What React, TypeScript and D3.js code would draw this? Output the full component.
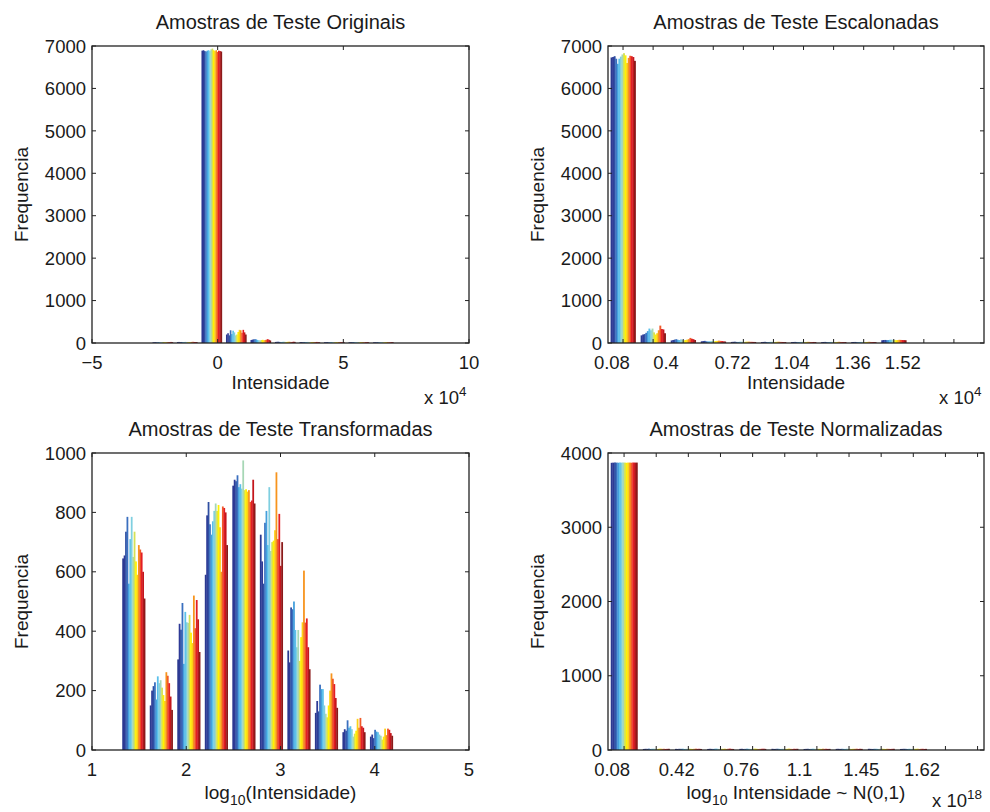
import React from "react";
import * as d3 from "d3";

// ---------- DATA ----------
const SERIES_COUNT = 16;

// Panel 1: Amostras de Teste Originais (x in units of 10^4)
const origCenters = [-2.19, -1.215, -0.24, 0.735, 1.71, 2.685, 3.66, 4.635, 5.61, 6.585];
const origCounts = [
  [15, 18, 20, 16, 22, 18, 15, 20, 24, 18, 16, 20, 22, 18, 25, 20],
  [22, 25, 20, 24, 18, 22, 26, 20, 24, 22, 20, 25, 28, 24, 22, 20],
  [6890, 6900, 6880, 6870, 6890, 6900, 6880, 6920, 6940, 6900, 6880, 6900, 6860, 6890, 6880, 6870],
  [200, 230, 180, 300, 210, 290, 250, 180, 200, 260, 310, 300, 240, 310, 250, 200],
  [70, 80, 85, 90, 85, 70, 65, 60, 70, 75, 65, 70, 80, 90, 75, 60],
  [25, 28, 30, 26, 22, 25, 30, 28, 24, 26, 30, 28, 22, 25, 30, 26],
  [20, 22, 18, 24, 20, 22, 25, 20, 18, 22, 24, 20, 22, 25, 20, 18],
  [18, 20, 22, 18, 20, 24, 20, 18, 22, 20, 18, 22, 24, 20, 18, 20],
  [16, 18, 20, 22, 18, 16, 20, 22, 18, 20, 22, 18, 16, 20, 22, 18],
  [15, 18, 16, 20, 18, 15, 18, 20, 16, 18, 20, 22, 18, 16, 20, 18],
];
const origXTicks = [-5, 0, 5, 10];
const origXTickLabels = ["\u22125", "0", "5", "10"];
const origYTicks = [0, 1000, 2000, 3000, 4000, 5000, 6000, 7000];

// Panel 2: Amostras de Teste Escalonadas (x as bin index)
const scaledCenters = [0, 1, 2, 3, 4, 5, 6, 7, 8, 9];
const scaledCounts = [
  [6730, 6740, 6760, 6700, 6580, 6700, 6750, 6800, 6830, 6780, 6600, 6720, 6770, 6760, 6740, 6650],
  [180, 200, 210, 240, 280, 340, 300, 340, 250, 200, 230, 300, 410, 330, 320, 230],
  [60, 70, 80, 90, 75, 70, 85, 70, 65, 70, 80, 90, 120, 100, 90, 70],
  [40, 45, 50, 40, 35, 40, 45, 50, 40, 45, 50, 55, 50, 45, 40, 35],
  [25, 28, 30, 26, 24, 28, 30, 26, 25, 28, 32, 30, 28, 26, 25, 24],
  [22, 25, 28, 24, 22, 25, 28, 26, 24, 25, 30, 28, 26, 24, 22, 22],
  [22, 24, 26, 24, 22, 24, 26, 28, 24, 22, 28, 26, 24, 22, 24, 22],
  [20, 24, 26, 22, 20, 24, 26, 24, 22, 20, 26, 28, 24, 22, 20, 22],
  [22, 24, 25, 22, 20, 24, 26, 24, 22, 24, 26, 28, 24, 22, 22, 20],
  [65, 70, 72, 68, 70, 75, 78, 70, 72, 68, 70, 75, 72, 70, 68, 66],
];
const scaledXTicks = [0, 1, 2, 3, 4, 5, 6, 7, 8, 9, 10, 11];
const scaledLabelText = ["0.08", "0.4", "0.72", "1.04", "1.36", "1.52"];
const scaledLabelPos = [-0.37, 1.43, 3.64, 5.61, 7.64, 9.3];
const scaledYTicks = [0, 1000, 2000, 3000, 4000, 5000, 6000, 7000];

// Panel 3: Amostras de Teste Transformadas (x = log10 intensity)
const transCenters = [1.442, 1.734, 2.026, 2.318, 2.61, 2.902, 3.194, 3.486, 3.778, 4.07];
const transCounts = [
  [645, 655, 735, 785, 560, 710, 785, 650, 735, 635, 590, 690, 675, 665, 600, 510],
  [150, 200, 215, 228, 170, 248, 225, 235, 210, 185, 165, 262, 250, 225, 180, 135],
  [305, 425, 405, 495, 290, 465, 430, 428, 455, 395, 360, 520, 410, 505, 440, 330],
  [590, 790, 835, 760, 725, 770, 805, 830, 805, 825, 750, 600, 820, 815, 800, 690],
  [890, 910, 905, 925, 885, 895, 880, 975, 875, 878, 870, 875, 835, 840, 910, 830],
  [725, 635, 560, 765, 805, 690, 885, 670, 700, 705, 740, 935, 710, 795, 620, 700],
  [335, 295, 480, 474, 500, 404, 346, 404, 300, 380, 430, 604, 429, 443, 346, 272],
  [125, 165, 130, 220, 205, 205, 150, 122, 110, 150, 200, 258, 240, 222, 175, 142],
  [60, 70, 65, 100, 75, 80, 70, 45, 55, 65, 105, 75, 108, 80, 75, 60],
  [45, 52, 40, 68, 62, 60, 52, 48, 35, 45, 72, 50, 72, 68, 57, 48],
];
const transXTicks = [1, 2, 3, 4, 5];
const transXTickLabels = ["1", "2", "3", "4", "5"];
const transYTicks = [0, 200, 400, 600, 800, 1000];

// Panel 4: Amostras de Teste Normalizadas (x as bin index)
const normCenters = [0, 1, 2, 3, 4, 5, 6, 7, 8, 9];
const normCounts = [
  [3868, 3870, 3872, 3870, 3869, 3871, 3870, 3872, 3870, 3868, 3871, 3870, 3869, 3872, 3870, 3871],
  [14, 16, 15, 18, 14, 16, 17, 15, 14, 16, 18, 15, 16, 14, 15, 16],
  [15, 14, 16, 15, 17, 14, 15, 16, 18, 15, 14, 16, 17, 15, 16, 14],
  [14, 16, 15, 14, 16, 18, 15, 14, 16, 15, 17, 14, 16, 18, 15, 14],
  [15, 16, 14, 15, 17, 16, 14, 15, 16, 18, 15, 14, 15, 16, 17, 15],
  [16, 14, 15, 17, 15, 14, 16, 15, 14, 16, 18, 15, 14, 16, 15, 16],
  [14, 15, 16, 14, 15, 17, 16, 14, 15, 16, 14, 17, 15, 16, 14, 15],
  [15, 16, 14, 16, 15, 14, 17, 16, 15, 14, 16, 15, 17, 14, 16, 15],
  [16, 15, 14, 15, 16, 15, 14, 16, 17, 15, 14, 16, 15, 14, 15, 16],
  [14, 15, 16, 15, 14, 16, 15, 14, 16, 15, 17, 14, 15, 16, 14, 15],
];
const normXTicks = [0, 1, 2, 3, 4, 5, 6, 7, 8, 9, 10, 11];
const normLabelText = ["0.08", "0.42", "0.76", "1.1", "1.45", "1.62"];
const normLabelPos = [-0.37, 1.64, 3.65, 5.46, 7.38, 9.27];
const normYTicks = [0, 1000, 2000, 3000, 4000];

// ---------- STYLE ----------
const PALETTE = [
  "#2b3990", "#2e3a96", "#2f4fa2", "#3a6fbf", "#44a0dc", "#5bc0eb", "#7fcfe0", "#a6d7b5",
  "#d4e157", "#fff200", "#fcd116", "#f7941d", "#f15a29", "#e31e24", "#c4161c", "#8b1a1a",
];
const FONT = "'Liberation Sans', Arial, Helvetica, sans-serif";
const FS = 18.5;
const FS_TITLE = 20;
const FS_LABEL = 19;
const TEXT = "#1a1a1a";

type PanelProps = {
  left: number; top: number; right: number; bottom: number;
  xDomain: [number, number]; yDomain: [number, number];
  xTicks: number[]; xLabels: { pos: number; text: string }[];
  yTicks: number[];
  centers: number[]; counts: number[][];
  title: string;
};

function Panel(p: PanelProps) {
  const x = d3.scaleLinear().domain(p.xDomain).range([p.left, p.right]);
  const y = d3.scaleLinear().domain(p.yDomain).range([p.bottom, p.top]);
  const spacing = x(p.centers[1]) - x(p.centers[0]);
  const gw = spacing * 0.83;
  const bw = gw / SERIES_COUNT;
  const TL = 4;
  return (
    <g>
      {p.counts.map((row, i) =>
        row.map((v, j) => {
          const x0 = x(p.centers[i]) - gw / 2 + j * bw;
          return (
            <rect key={`${i}-${j}`} x={x0} y={y(v)} width={bw + 0.35}
              height={Math.max(0, y(0) - y(v))} fill={PALETTE[j % PALETTE.length]} />
          );
        })
      )}
      {p.xTicks.map((t) => (
        <g key={`xt${t}`}>
          <line x1={x(t)} x2={x(t)} y1={p.bottom} y2={p.bottom - TL} stroke="#222" strokeWidth={1} />
          <line x1={x(t)} x2={x(t)} y1={p.top} y2={p.top + TL} stroke="#222" strokeWidth={1} />
        </g>
      ))}
      {p.yTicks.map((t) => (
        <g key={`yt${t}`}>
          <line x1={p.left} x2={p.left + TL} y1={y(t)} y2={y(t)} stroke="#222" strokeWidth={1} />
          <line x1={p.right} x2={p.right - TL} y1={y(t)} y2={y(t)} stroke="#222" strokeWidth={1} />
          <text x={p.left - 6} y={y(t)} dy="0.36em" textAnchor="end" fontSize={FS} fill={TEXT}>
            {t}
          </text>
        </g>
      ))}
      {p.xLabels.map((l, k) => (
        <text key={`xl${k}`} x={x(l.pos)} y={p.bottom + 26} textAnchor="middle" fontSize={FS} fill={TEXT}>
          {l.text}
        </text>
      ))}
      <rect x={p.left} y={p.top} width={p.right - p.left} height={p.bottom - p.top}
        fill="none" stroke="#222" strokeWidth={1.3} />
      <text x={(p.left + p.right) / 2} y={p.top - 17} textAnchor="middle" fontSize={FS_TITLE} fill={TEXT}>
        {p.title}
      </text>
      <text transform={`translate(${p.left - 64},${(p.top + p.bottom) / 2}) rotate(-90)`}
        textAnchor="middle" fontSize={FS_LABEL} fill={TEXT}>
        Frequencia
      </text>
    </g>
  );
}

export default function App() {
  const P1 = { left: 92, top: 46, right: 469, bottom: 343 };
  const P2 = { left: 608, top: 46, right: 984, bottom: 343 };
  const P3 = { left: 92, top: 453, right: 469, bottom: 750 };
  const P4 = { left: 608, top: 453, right: 984, bottom: 750 };
  return (
    <svg width={990} height={812} style={{ position: "absolute", left: 0, top: 0, background: "#fff" }}
      fontFamily={FONT}>
      <rect x={0} y={0} width={990} height={812} fill="#fff" />
      <Panel {...P1} xDomain={[-5, 10]} yDomain={[0, 7000]} xTicks={origXTicks}
        xLabels={origXTicks.map((t, i) => ({ pos: t, text: origXTickLabels[i] }))}
        yTicks={origYTicks} centers={origCenters} counts={origCounts}
        title="Amostras de Teste Originais" />
      <Panel {...P2} xDomain={[-0.5, 12]} yDomain={[0, 7000]} xTicks={scaledXTicks}
        xLabels={scaledLabelText.map((t, i) => ({ pos: scaledLabelPos[i], text: t }))}
        yTicks={scaledYTicks} centers={scaledCenters} counts={scaledCounts}
        title="Amostras de Teste Escalonadas" />
      <Panel {...P3} xDomain={[1, 5]} yDomain={[0, 1000]} xTicks={transXTicks}
        xLabels={transXTicks.map((t, i) => ({ pos: t, text: transXTickLabels[i] }))}
        yTicks={transYTicks} centers={transCenters} counts={transCounts}
        title="Amostras de Teste Transformadas" />
      <Panel {...P4} xDomain={[-0.5, 11.2]} yDomain={[0, 4000]} xTicks={normXTicks}
        xLabels={normLabelText.map((t, i) => ({ pos: normLabelPos[i], text: t }))}
        yTicks={normYTicks} centers={normCenters} counts={normCounts}
        title="Amostras de Teste Normalizadas" />

      {/* x labels */}
      <text x={280.5} y={389} textAnchor="middle" fontSize={FS_LABEL} fill={TEXT}>Intensidade</text>
      <text x={796} y={389} textAnchor="middle" fontSize={FS_LABEL} fill={TEXT}>Intensidade</text>
      <text x={280.5} y={799} textAnchor="middle" fontSize={FS_LABEL} fill={TEXT}>
        log<tspan dy={6} fontSize={14}>10</tspan><tspan dy={-6}>(Intensidade)</tspan>
      </text>
      <text x={796} y={799} textAnchor="middle" fontSize={FS_LABEL} fill={TEXT}>
        log<tspan dy={6} fontSize={14}>10</tspan><tspan dy={-6}> Intensidade ~ N(0,1)</tspan>
      </text>

      {/* exponent multipliers */}
      <text x={424} y={404} fontSize={FS} fill={TEXT}>
        x 10<tspan dy={-8} fontSize={13.5}>4</tspan>
      </text>
      <text x={939} y={404} fontSize={FS} fill={TEXT}>
        x 10<tspan dy={-8} fontSize={13.5}>4</tspan>
      </text>
      <text x={932} y={807} fontSize={FS} fill={TEXT}>
        x 10<tspan dy={-8} fontSize={13.5}>18</tspan>
      </text>
    </svg>
  );
}
